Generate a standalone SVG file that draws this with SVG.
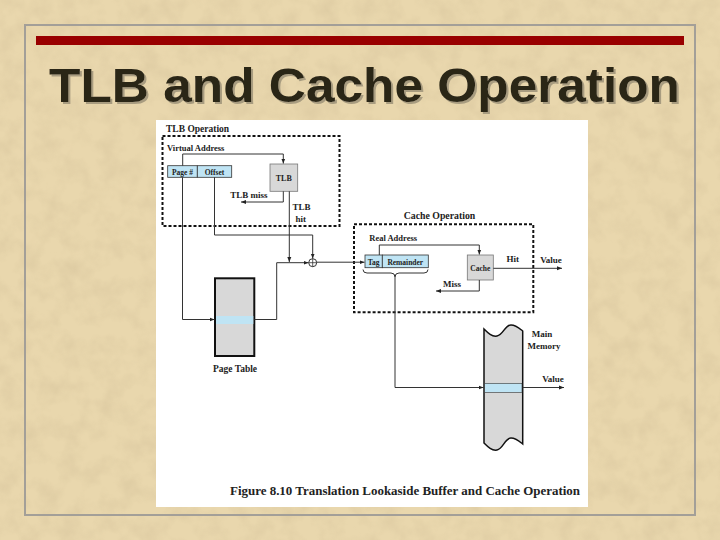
<svg xmlns="http://www.w3.org/2000/svg" width="720" height="540" viewBox="0 0 720 540">
<defs>
<filter id="paper" x="0" y="0" width="100%" height="100%">
<feTurbulence type="fractalNoise" baseFrequency="0.05" numOctaves="3" seed="7"/>
<feColorMatrix type="matrix" values="0 0 0 0 0.62  0 0 0 0 0.5  0 0 0 0 0.3  1.3 0 0 0 -0.5"/>
</filter>
<filter id="shadow" x="-5%" y="-20%" width="110%" height="140%">
<feDropShadow dx="2" dy="2" stdDeviation="0.4" flood-color="#a89c80" flood-opacity="1"/>
</filter>
<marker id="ah" viewBox="0 0 10 10" refX="10" refY="5" markerWidth="5" markerHeight="5" orient="auto" markerUnits="userSpaceOnUse">
<path d="M0,1 L10,5 L0,9 Z" fill="#222"/>
</marker>
<style>
.dl{font-family:"Liberation Serif","Times New Roman",serif;font-weight:bold;fill:#222}
.c{text-anchor:middle}
.con{fill:none;stroke:#333;stroke-width:1}
.dash{fill:none;stroke:#111;stroke-width:2;stroke-dasharray:3,2}
.blue{fill:#bfe4f4;stroke:#333;stroke-width:0.8}
.gray{fill:#d8d8d8;stroke:#777;stroke-width:0.8}
</style>
</defs>
<rect width="720" height="540" fill="#e9d7ad"/>
<rect width="720" height="540" filter="url(#paper)" opacity="0.55"/>
<rect x="25" y="25" width="670" height="490" fill="none" stroke="#a39f98" stroke-width="2"/>
<rect x="36" y="36" width="648" height="9" fill="#990000"/>
<g id="title" filter="url(#shadow)">
<text x="364.5" y="101.5" text-anchor="middle" font-family="'Liberation Sans',Arial,sans-serif" font-weight="bold" font-size="47.5" textLength="631" lengthAdjust="spacingAndGlyphs" fill="#2b2618">TLB and Cache Operation</text>
</g>
<rect x="156" y="120" width="432" height="387" fill="#ffffff"/>

<g id="tlb-operation">
<rect class="dash" x="162.5" y="136" width="177" height="90"/>
<text class="dl" x="166" y="132" font-size="9.5">TLB Operation</text>
<text class="dl" x="167" y="151" font-size="8.5">Virtual Address</text>
</g>
<g id="virtual-address">
<rect class="blue" x="167.7" y="165.7" width="29.6" height="11.6"/>
<rect class="blue" x="197.3" y="165.7" width="34.4" height="11.6"/>
<text class="dl c" x="182.5" y="174.5" font-size="7.5">Page #</text>
<text class="dl c" x="214.5" y="174.5" font-size="7.5">Offset</text>
</g>
<g id="tlb">
<rect class="gray" x="270" y="164" width="27.7" height="27.3"/>
<text class="dl c" x="283.8" y="181" font-size="8">TLB</text>
</g>
<g id="cache-operation">
<rect class="dash" x="354" y="224.3" width="179.3" height="88"/>
<text class="dl c" x="439.5" y="219" font-size="9.8">Cache Operation</text>
<text class="dl" x="369.3" y="240.5" font-size="8.5">Real Address</text>
</g>
<g id="real-address">
<rect class="blue" x="365" y="255" width="17.3" height="12.7"/>
<rect class="blue" x="382.3" y="255" width="46" height="12.7"/>
<text class="dl c" x="373.7" y="264.5" font-size="7.5">Tag</text>
<text class="dl c" x="405.3" y="264.5" font-size="7.5">Remainder</text>
</g>
<g id="cache">
<rect class="gray" x="467.3" y="255" width="26" height="25"/>
<text class="dl c" x="480.3" y="271" font-size="7.5">Cache</text>
</g>
<g id="page-table">
<rect x="215" y="278.3" width="39.3" height="77.7" fill="#d8d8d8" stroke="#111" stroke-width="2"/>
<rect x="216" y="316" width="37.3" height="8" fill="#bfe4f4"/>
<text class="dl c" x="235" y="372" font-size="9.5">Page Table</text>
</g>
<g id="main-memory">
<path d="M484,329 C488,333 492,337 497,336 C503,335 505,325 511,325 C516,325 519,328 522.7,331 V444 C519,441 516,438 511,438 C505,438 503,449 497,450 C492,451 488,447 484,443 Z" fill="#d8d8d8" stroke="#111" stroke-width="1.5"/>
<rect x="484.7" y="383.3" width="37.3" height="9" fill="#bfe4f4" stroke="#333" stroke-width="0.6"/>
<text class="dl c" x="542" y="337" font-size="9">Main</text>
<text class="dl c" x="544" y="349" font-size="9">Memory</text>
</g>
<g id="adder">
<circle cx="312.7" cy="262.7" r="4" fill="#fff" stroke="#333" stroke-width="1"/>
<path d="M308.7,262.7 H316.7 M312.7,258.7 V266.7" stroke="#333" stroke-width="0.8"/>
</g>
<g id="connectors">
<path class="con" d="M182.7,165.7 V154 H283.3 V163.5" marker-end="url(#ah)"/>
<path class="con" d="M283.3,191.3 V202 H241" marker-end="url(#ah)"/>
<path class="con" d="M289.3,191.3 V262" marker-end="url(#ah)"/>
<path class="con" d="M182.5,177.3 V319.5 H214.5" marker-end="url(#ah)"/>
<path class="con" d="M214.5,177.3 V235 H312.7 V258.5" marker-end="url(#ah)"/>
<path class="con" d="M254.3,319.5 H276.7 V262.7 H308.5" marker-end="url(#ah)"/>
<path class="con" d="M316.7,262.2 H364.5" marker-end="url(#ah)"/>
<path class="con" d="M379.3,255 V245 H479.3 V254.5" marker-end="url(#ah)"/>
<path class="con" d="M493.3,268.3 H562" marker-end="url(#ah)"/>
<path class="con" d="M479.3,280 V291 H436" marker-end="url(#ah)"/>
<path class="con" d="M363,269.5 Q363,273 367,273 L391,273 Q395,273 395,277 Q395,273 399,273 L424,273 Q428,273 428,269.5"/>
<path class="con" d="M395,277 V387.5 H483.5" marker-end="url(#ah)"/>
<path class="con" d="M522.7,387.5 H564" marker-end="url(#ah)"/>
</g>
<g id="labels">
<text class="dl c" x="249" y="197.5" font-size="9">TLB miss</text>
<text class="dl c" x="301.5" y="210" font-size="9">TLB</text>
<text class="dl c" x="300.8" y="221.5" font-size="9">hit</text>
<text class="dl c" x="512.7" y="261.5" font-size="9">Hit</text>
<text class="dl c" x="551" y="262.5" font-size="9">Value</text>
<text class="dl c" x="452" y="286.5" font-size="9">Miss</text>
<text class="dl c" x="553" y="382" font-size="9">Value</text>
</g>
<text class="dl" x="230" y="495" font-size="11.5" textLength="350" lengthAdjust="spacingAndGlyphs">Figure 8.10  Translation Lookaside Buffer and Cache Operation</text>
</svg>
